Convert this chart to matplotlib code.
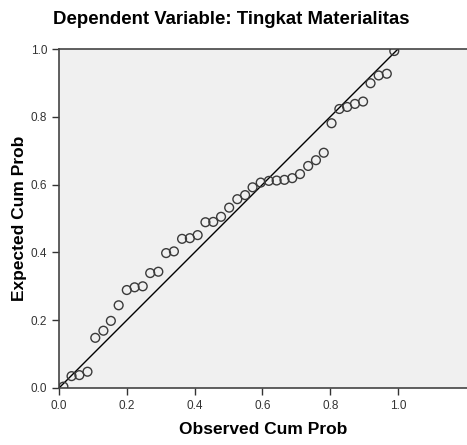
import matplotlib
matplotlib.use("Agg")
import matplotlib.pyplot as plt

# P-P plot values
observed = [0.013, 0.037, 0.060, 0.084, 0.107, 0.131, 0.153, 0.176, 0.200, 0.223,
            0.247, 0.269, 0.293, 0.316, 0.339, 0.363, 0.386, 0.409, 0.432, 0.455,
            0.478, 0.502, 0.526, 0.549, 0.571, 0.595, 0.619, 0.642, 0.665, 0.688,
            0.711, 0.735, 0.758, 0.781, 0.804, 0.827, 0.850, 0.873, 0.897, 0.919,
            0.943, 0.967, 0.989]
expected = [0.004, 0.035, 0.038, 0.048, 0.148, 0.169, 0.198, 0.244, 0.289, 0.297,
            0.300, 0.339, 0.343, 0.398, 0.403, 0.440, 0.442, 0.451, 0.489, 0.490,
            0.505, 0.532, 0.557, 0.569, 0.592, 0.606, 0.611, 0.612, 0.614, 0.619,
            0.631, 0.655, 0.672, 0.694, 0.781, 0.823, 0.829, 0.838, 0.845, 0.899,
            0.922, 0.927, 0.994]
ref_line = [0.0, 1.0]
ticks = [0.0, 0.2, 0.4, 0.6, 0.8, 1.0]
tick_labels = ["0.0", "0.2", "0.4", "0.6", "0.8", "1.0"]

plt.rcParams['font.family'] = ['Liberation Sans', 'DejaVu Sans']

fig = plt.figure(figsize=(4.67, 4.45), dpi=100)
ax = fig.add_axes([59 / 467, 57 / 445, 1 - 59 / 467, 339 / 445])
ax.set_facecolor('#f0f0f0')

ax.plot(ref_line, ref_line, color='black', lw=1.0, zorder=2)
ax.scatter(observed, expected, s=40, facecolors='none', edgecolors='#3a3a3a',
           linewidths=1.0, zorder=3)

ax.set_xlim(0, 408 / 339)
ax.set_ylim(0, 1.0)
ax.set_xticks(ticks)
ax.set_xticklabels(tick_labels)
ax.set_yticks(ticks)
ax.set_yticklabels(tick_labels)
ax.tick_params(labelsize=8.5, labelcolor='#333333', color='#333333', length=5, width=1)

ax.spines['right'].set_visible(False)
for s in ['left', 'top', 'bottom']:
    ax.spines[s].set_color('#444444')
    ax.spines[s].set_linewidth(1.2)

ax.set_xlabel('Observed Cum Prob', fontsize=12.5, fontweight='bold', labelpad=7)
ax.set_ylabel('Expected Cum Prob', fontsize=12.5, fontweight='bold', labelpad=3)
fig.text(231 / 467, 1 - 20 / 445, 'Dependent Variable: Tingkat Materialitas',
         fontsize=13.4, fontweight='bold', ha='center', va='center')

fig.savefig('out.png', dpi=100)
